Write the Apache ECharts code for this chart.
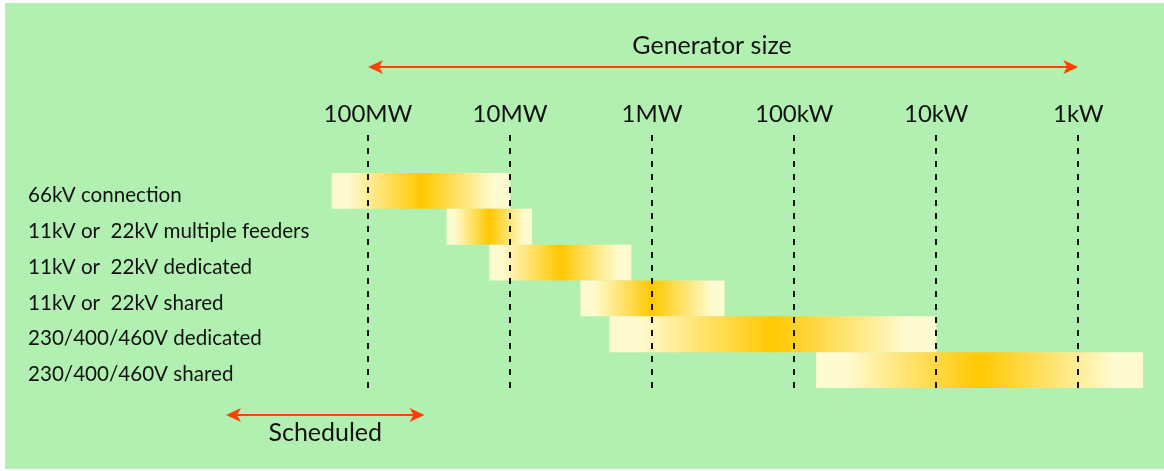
<!DOCTYPE html>
<html>
<head>
<meta charset="utf-8">
<title>Generator connection size ranges</title>
<script src="https://cdn.jsdelivr.net/npm/echarts@6/dist/echarts.min.js"></script>
<style>
  html, body { margin: 0; padding: 0; background: #ffffff; }
  #chart { width: 1164px; height: 471px; }
</style>
</head>
<body>
<div id="chart"></div>
<script>
// Connection types, one row each (top to bottom)
const connectionTypes = [
  '66kV connection',
  '11kV or  22kV multiple feeders',
  '11kV or  22kV dedicated',
  '11kV or  22kV shared',
  '230/400/460V dedicated',
  '230/400/460V shared'
];
// Generator size range served by each connection type, in kW
const sizeFromKW = [180000, 28000, 14000, 3200, 2000, 70];
const sizeToKW   = [10000, 7000, 1400, 310, 10, 0.35];

// Decade marks along the size scale
const tickKW = [100000, 10000, 1000, 100, 10, 1];
const tickLabels = ['100MW', '10MW', '1MW', '100kW', '10kW', '1kW'];

// Annotation arrows: overall generator size span, and the scheduled range
const arrowNames = ['Generator size', 'Scheduled'];
const arrowFromKW = [100000, 1000000];
const arrowToKW   = [1, 40000];

const FONT = 'Lato, "Liberation Sans", sans-serif';
const GREEN = '#b2f0b2';
const LIGHT = '#fffbd0';
const GOLD = '#ffc800';
const ARROW = '#ff4200';
const INK = '#111111';

const log = v => Math.log10(v);
const bandData = connectionTypes.map((_, i) => [log(sizeFromKW[i]), log(sizeToKW[i]), i]);
const tickData = tickKW.map(v => [log(v), 0]);
const arrowData = arrowNames.map((_, i) => [log(arrowFromKW[i]), log(arrowToKW[i]), i]);
const labelByTick = {};
tickKW.forEach((v, i) => { labelByTick[log(v).toFixed(3)] = tickLabels[i]; });

function bandGradient() {
  return new echarts.graphic.LinearGradient(0, 0, 1, 0, [
    { offset: 0, color: LIGHT },
    { offset: 0.09, color: LIGHT },
    { offset: 0.5, color: GOLD },
    { offset: 0.91, color: LIGHT },
    { offset: 1, color: LIGHT }
  ]);
}

function arrowHead(tipX, y, dir) {
  // dir = -1 points left, +1 points right (swept-back head)
  const len = 15, half = 7, notch = 11;
  return {
    type: 'polygon',
    shape: { points: [
      [tipX, y],
      [tipX - dir * len, y - half],
      [tipX - dir * notch, y],
      [tipX - dir * len, y + half]
    ] },
    style: { fill: ARROW }
  };
}

const arrowRowY = [67, 415];

const chart = echarts.init(document.getElementById('chart'), null, { renderer: 'canvas' });

chart.setOption({
  backgroundColor: '#ffffff',
  animation: false,
  graphic: [
    {
      type: 'rect', z: -10, silent: true,
      shape: { x: 5, y: 3, width: 1159, height: 466 },
      style: { fill: GREEN }
    },
    {
      type: 'text', z: 10,
      x: 712, y: 46,
      style: {
        text: arrowNames[0], align: 'center', verticalAlign: 'middle',
        font: '25px ' + FONT, fill: INK
      }
    }
  ],
  grid: { left: 297, right: 14.7, top: 173, bottom: 83, containLabel: false },
  xAxis: {
    type: 'value',
    position: 'top',
    inverse: true,
    min: -0.5,
    max: 5.5,
    axisLine: { show: false },
    axisTick: { show: false },
    splitLine: { show: false },
    axisLabel: {
      customValues: tickKW.map(log),
      formatter: v => labelByTick[v.toFixed(3)] || '',
      margin: 59,
      verticalAlign: 'middle',
      fontFamily: FONT,
      fontSize: 24,
      color: INK
    }
  },
  yAxis: {
    type: 'category',
    inverse: true,
    data: connectionTypes,
    axisLine: { show: false },
    axisTick: { show: false },
    splitLine: { show: false },
    axisLabel: {
      align: 'left',
      verticalAlign: 'top',
      lineHeight: 9,
      margin: 269,
      fontFamily: FONT,
      fontSize: 20.6,
      color: INK
    }
  },
  series: [
    {
      name: 'Size range',
      type: 'custom',
      data: bandData,
      encode: { x: [0, 1], y: 2 },
      z: 2,
      renderItem(params, api) {
        const a = api.coord([api.value(0), api.value(2)]);
        const b = api.coord([api.value(1), api.value(2)]);
        const h = api.size([0, 1])[1];
        return {
          type: 'rect',
          shape: { x: a[0], y: a[1] - h / 2, width: b[0] - a[0], height: h },
          style: { fill: bandGradient() }
        };
      }
    },
    {
      name: 'Decades',
      type: 'custom',
      data: tickData,
      encode: { x: 0, y: 1 },
      z: 3,
      silent: true,
      renderItem(params, api) {
        const x = Math.round(api.coord([api.value(0), 0])[0]);
        const cs = params.coordSys;
        return {
          type: 'line',
          shape: { x1: x, y1: cs.y - 38, x2: x, y2: cs.y + cs.height + 7 },
          style: { stroke: INK, lineWidth: 2, lineDash: [6, 7] }
        };
      }
    },
    {
      name: 'Annotations',
      type: 'custom',
      data: arrowData,
      encode: { x: [0, 1] },
      z: 4,
      silent: true,
      clip: false,
      renderItem(params, api) {
        const i = api.value(2);
        const y = arrowRowY[i];
        const xa = api.coord([api.value(0), 0])[0];
        const xb = api.coord([api.value(1), 0])[0];
        const children = [
          {
            type: 'line',
            shape: { x1: xa + 10, y1: y, x2: xb - 10, y2: y },
            style: { stroke: ARROW, lineWidth: 2 }
          },
          arrowHead(xa, y, -1),
          arrowHead(xb, y, 1)
        ];
        if (i === 1) {
          children.push({
            type: 'text',
            x: (xa + xb) / 2, y: y + 18,
            style: {
              text: arrowNames[1], align: 'center', verticalAlign: 'middle',
              font: '25px ' + FONT, fill: INK
            }
          });
        }
        return { type: 'group', children };
      }
    }
  ]
});
</script>
</body>
</html>
